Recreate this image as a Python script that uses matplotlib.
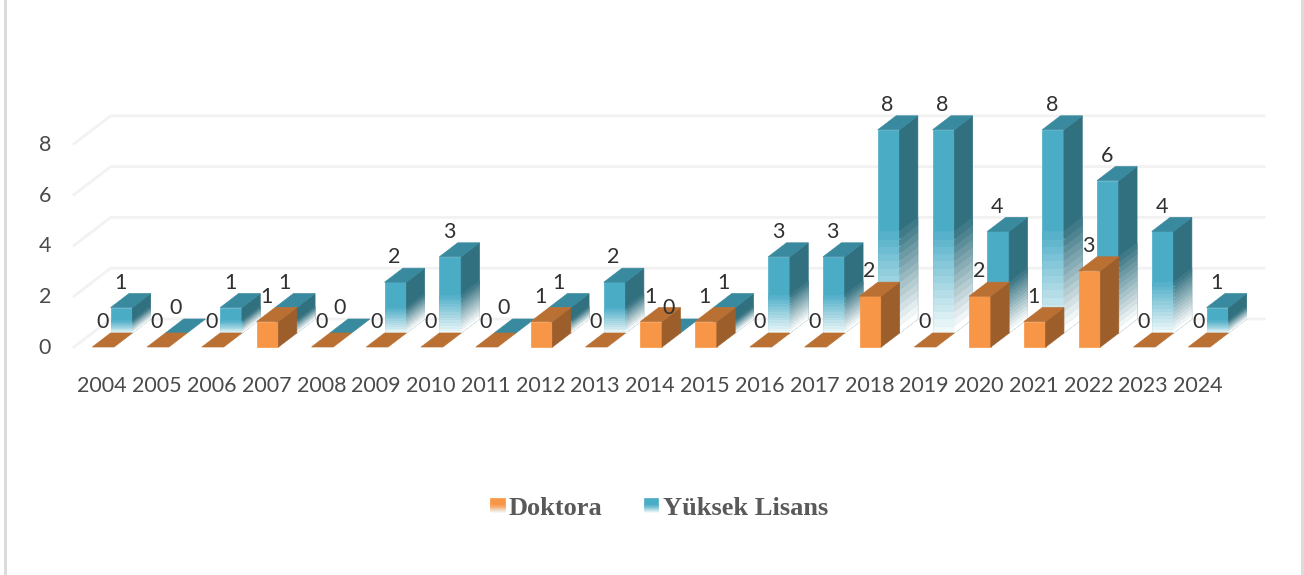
import numpy as np
import matplotlib
matplotlib.use('Agg')
import matplotlib.pyplot as plt

years = [str(y) for y in range(2004, 2025)]
doktora = [0, 0, 0, 1, 0, 0, 0, 0, 1, 0, 1, 1, 0, 0, 2, 0, 2, 1, 3, 0, 0]
yuksek = [1, 0, 1, 1, 0, 2, 3, 0, 1, 2, 0, 1, 3, 3, 8, 8, 4, 8, 6, 4, 1]
yticks = [0, 2, 4, 6, 8]

W, H = 1304, 575
# pixel layout of the category and value axes
X0, XSTEP = 103.2, 54.8
Y0, YSTEP = 347.0, 25.4
BAR_W = 21.7 / XSTEP
DX = 18.3 / XSTEP
DY = 14.0 / YSTEP

BLUE = ['#4bacc6', '#3a8a9f', '#31707f']
ORANGE = ['#f79646', '#ba7033', '#9c5e2b']
NBANDS = 14


def fx(px):
    return (px - X0) / XSTEP


def fy(py):
    return (Y0 - py) / YSTEP


def mix(col, t, end=(0.94, 0.975, 0.98)):
    # t=0 full colour, t=1 nearly white
    c = np.array(matplotlib.colors.to_rgb(col))
    return tuple(c + (np.array(end) - c) * t)


def poly(ax, xs, ys, col, z):
    ax.fill(xs, ys, color=col, lw=0.5, zorder=z)


def draw_bar(ax, x, base, v, cols, z, fade):
    left, right = x - BAR_W / 2, x + BAR_W / 2
    top = base + v
    if v > 0:
        poly(ax, [left, right, right, left], [base, base, top, top], cols[0], z)
        poly(ax, [right, right + DX, right + DX, right],
             [base, base + DY, top + DY, top], cols[2], z)
        if fade:
            # lower half of the bar fades out in bands
            edges = np.linspace(base, base + v * 0.5, NBANDS + 1)
            for i in range(NBANDS):
                t = 1 - i / NBANDS
                a, b = edges[i], edges[i + 1]
                poly(ax, [left, right, right, left], [a, a, b, b], mix(cols[0], t), z)
                poly(ax, [right, right + DX, right + DX, right],
                     [a, a + DY, b + DY, b], mix(cols[2], t, (1, 1, 1)), z)
    poly(ax, [left, right, right + DX, left + DX],
         [top, top, top + DY, top + DY], cols[1], z)


fig = plt.figure(figsize=(W / 100, H / 100), dpi=100)
ax = fig.add_axes([0, 0, 1, 1])
ax.set_xlim(fx(0), fx(W))
ax.set_ylim(fy(H), fy(0))
ax.axis('off')

# frame edges
ax.plot([fx(5), fx(5)], [fy(0), fy(H)], color='#d9d9d9', lw=2, zorder=1)
ax.plot([fx(1302), fx(1302)], [fy(0), fy(H)], color='#d9d9d9', lw=2, zorder=1)

# gridlines on the floor and back wall
for t in yticks:
    ax.plot([fx(74), fx(74) + 2 * DX, fx(1264)],
            [t, t + 2 * DY, t + 2 * DY], color='#f2f2f2', lw=2, zorder=2,
            solid_joinstyle='miter')
    ax.text(fx(45), t - 0.04, str(t), ha='center', va='center', fontsize=15.5,
            family='Lato', color='#4a4a4a')

for i, v in enumerate(yuksek):
    draw_bar(ax, i + DX, DY, v, BLUE, 3, True)
for i, v in enumerate(doktora):
    draw_bar(ax, i, 0, v, ORANGE, 4, False)

for i, y in enumerate(years):
    ax.text(i - 0.02, fy(386.5), y, ha='center', va='center', fontsize=15.5,
            family='Lato', color='#4a4a4a')
    ax.text(i - 0.02, doktora[i] + 0.98, str(doktora[i]), ha='center', va='center',
            fontsize=15.5, family='Lato', color='#303030', zorder=6)
    ax.text(i + DX - 0.02, yuksek[i] + DY + 0.98, str(yuksek[i]), ha='center', va='center',
            fontsize=15.5, family='Lato', color='#303030', zorder=6)

# legend
for px, col, name, tx in [(490, ORANGE[0], 'Doktora', 509), (643.5, BLUE[0], 'Yüksek Lisans', 663)]:
    edges = np.linspace(512, 505, 8)
    poly(ax, [fx(px), fx(px + 14.5), fx(px + 14.5), fx(px)],
         [fy(505), fy(505), fy(498), fy(498)], col, 5)
    for j in range(7):
        c = mix(col, 1 - j / 7)
        poly(ax, [fx(px), fx(px + 14.5), fx(px + 14.5), fx(px)],
             [fy(edges[j]), fy(edges[j]), fy(edges[j + 1]), fy(edges[j + 1])], c, 5)
    ax.text(fx(tx), fy(515), name, ha='left', va='baseline', fontsize=19,
            family='Liberation Serif', fontweight='bold', color='#595959')

fig.savefig('out.png', dpi=100, facecolor='white')
